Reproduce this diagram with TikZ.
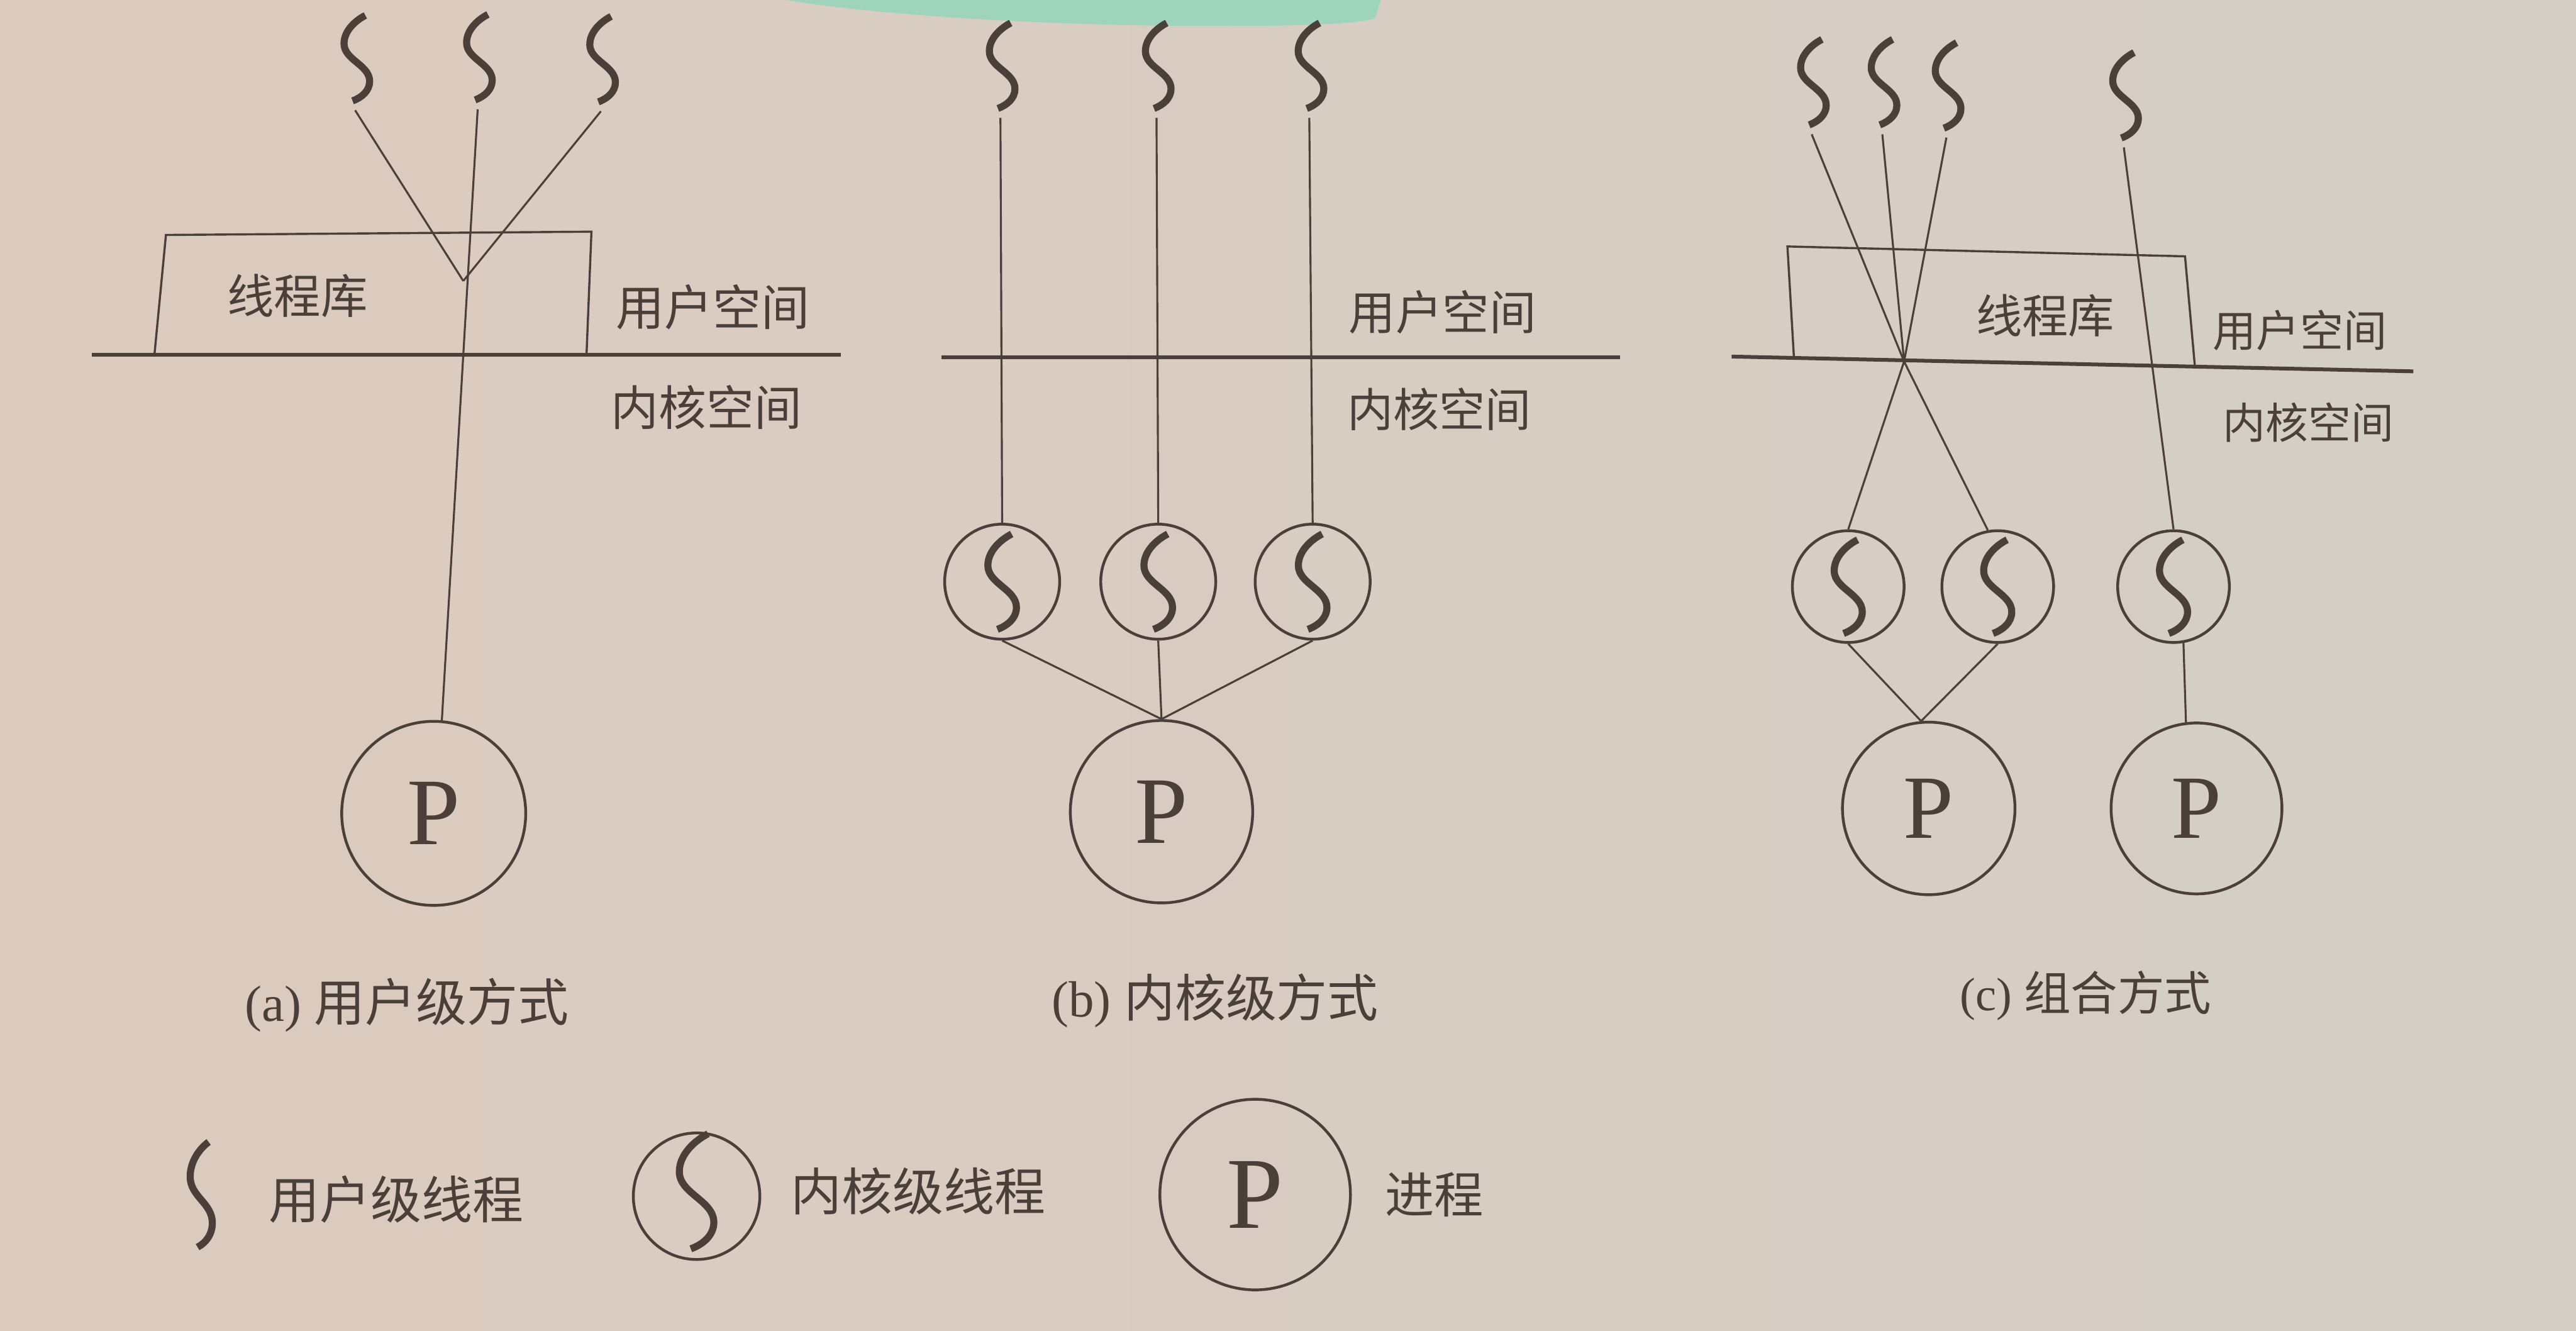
\documentclass[tikz,border=0pt]{standalone}
\usepackage{fontspec}
\setmainfont{Liberation Serif}
\newfontfamily\cjk{Noto Sans CJK SC}
\definecolor{ink}{HTML}{4B3F39}
\definecolor{paperL}{HTML}{DCCBBE}
\definecolor{paperR}{HTML}{D4CEC6}
\definecolor{hilite}{HTML}{9ED4BC}
\begin{document}
\begin{tikzpicture}[x=1pt,y=-1pt,
  ln/.style={draw=ink, line width=1.2pt},
  baseln/.style={draw=ink, line width=2.3pt},
  boxl/.style={draw=ink, line width=1.3pt, line join=miter},
  sqline/.style={draw=ink, line width=4.3pt},
  kc/.style={circle, draw=ink, line width=1.7pt, inner sep=0pt, minimum size=#1},
  pc/.style={circle, draw=ink, line width=1.7pt, inner sep=0pt, minimum size=#1, text=ink},
  cj/.style={font=\cjk\fontsize{#1}{#1}\selectfont, text=ink, inner sep=0pt, anchor=base},
  cap/.style={font=\fontsize{#1}{#1}\selectfont, text=ink, inner sep=0pt, anchor=base west},
  sq/.pic={
    \draw[sqline] (0.10,-0.50) .. controls (0.00,-0.45) and (-0.15,-0.33) .. (-0.15,-0.17)
      .. controls (-0.15,0.02) and (0.15,0.08) .. (0.15,0.27)
      .. controls (0.15,0.38) and (0.06,0.46) .. (-0.05,0.50);
    \coordinate (-b) at (-0.02,0.61);
  }
]
\useasboundingbox (0,0) rectangle (1568,810);
\shade[left color=paperL, right color=paperR] (0,0) rectangle (1568,810);
% highlighter stroke
\fill[hilite] (468,-2) .. controls (505,6) and (600,14) .. (700,15.5)
  .. controls (780,16.5) and (828,15) .. (837,11) -- (841,-2) -- cycle;

% ---------------- (a) user-level ----------------
\draw[boxl] (94,216) -- (101,143) -- (360,141) -- (357,216);
\draw[baseln] (56,216) -- (512,216);
\pic[scale=52] (ua1) at (217.2,35.4) {sq};
\pic[scale=52] (ua2) at (291.8,34.8) {sq};
\pic[scale=52] (ua3) at (366.8,36) {sq};
\coordinate (Va) at (282,171);
\node[pc=112pt, font=\fontsize{58pt}{58pt}\selectfont] (Pa) at (264,495) {P};
\draw[ln] (ua1-b) -- (Va);
\draw[ln] (ua3-b) -- (Va);
\draw[ln] (ua2-b) -- (Pa.85);
\node[cj=28.5pt] (liba) at (181,190.8) {线程库};
\node[cj=29.5pt] (usra) at (434,198.2) {用户空间};
\node[cj=29pt] (kera) at (430,259) {内核空间};
\node[cap=31pt] (capa) at (149,621.3) {(a) {\cjk 用户级方式}};

% ---------------- (b) kernel-level ----------------
\draw[baseln] (573,217.5) -- (986,217.5);
\pic[scale=52] (ub1) at (610,40) {sq};
\pic[scale=52] (ub2) at (705,40) {sq};
\pic[scale=52] (ub3) at (798,40) {sq};
\node[kc=70pt] (kb1) at (610,354) {};
\node[kc=70pt] (kb2) at (705,354) {};
\node[kc=70pt] (kb3) at (799,354) {};
\pic[scale=58] at (kb1) {sq};
\pic[scale=58] at (kb2) {sq};
\pic[scale=58] at (kb3) {sq};
\node[pc=111pt, font=\fontsize{58pt}{58pt}\selectfont] (Pb) at (707,494) {P};
\draw[ln] (ub1-b) -- (kb1.north);
\draw[ln] (ub2-b) -- (kb2.north);
\draw[ln] (ub3-b) -- (kb3.north);
\draw[ln] (kb1.south) -- (Pb.north);
\draw[ln] (kb2.south) -- (Pb.north);
\draw[ln] (kb3.south) -- (Pb.north);
\node[cj=28.5pt] (usrb) at (878,200.8) {用户空间};
\node[cj=28pt] (kerb) at (876,259.6) {内核空间};
\node[cap=31pt] (capb) at (640,618.8) {(b) {\cjk 内核级方式}};

% ---------------- (c) combined ----------------
\draw[boxl] (1092,218.5) -- (1088,150) -- (1330,156) -- (1336,223);
\draw[baseln] (1054,217) -- (1469,226);
\pic[scale=52] (uc1) at (1103.8,50) {sq};
\pic[scale=52] (uc2) at (1146.8,50) {sq};
\pic[scale=52] (uc3) at (1185.8,52) {sq};
\pic[scale=52] (uc4) at (1293.8,58) {sq};
\coordinate (Xc) at (1159,220);
\node[kc=68pt] (kc1) at (1125,357) {};
\node[kc=68pt] (kc2) at (1216,357) {};
\node[kc=68pt] (kc3) at (1323,357) {};
\pic[scale=57] at (kc1) {sq};
\pic[scale=57] at (kc2) {sq};
\pic[scale=57] at (kc3) {sq};
\node[pc=105pt, font=\fontsize{55pt}{55pt}\selectfont] (Pc1) at (1174,492) {P};
\node[pc=104pt, font=\fontsize{55pt}{55pt}\selectfont] (Pc2) at (1337,492) {P};
\draw[ln] (uc1-b) -- (Xc) -- (kc2.100);
\draw[ln] (uc3-b) -- (Xc) -- (kc1.north);
\draw[ln] (uc2-b) -- (Xc);
\draw[ln] (uc4-b) -- (kc3.north);
\draw[ln] (kc1.south) -- (Pc1.95);
\draw[ln] (kc2.south) -- (Pc1.95);
\draw[ln] (kc3.-80) -- (Pc2.97);
\node[cj=28pt] (libc) at (1245,202.6) {线程库};
\node[cj=26.5pt] (usrc) at (1400,211) {用户空间};
\node[cj=26pt] (kerc) at (1405,267) {内核空间};
\node[cap=28.5pt] (capc) at (1193,614.8) {(c) {\cjk 组合方式}};

% ---------------- legend ----------------
\pic[xscale=45, yscale=64] (ul) at (122.5,727) {sq};
\node[cj=31pt] (ult) at (241,741.8) {用户级线程};
\node[kc=77pt] (kl) at (424,728) {};
\pic[scale=70] at (424,725) {sq};
\node[cj=31pt] (klt) at (559,736.8) {内核级线程};
\node[pc=116pt, font=\fontsize{62pt}{62pt}\selectfont] (Pl) at (764,727) {P};
\node[cj=30pt] (plt) at (873,738.4) {进程};
\end{tikzpicture}
\end{document}
